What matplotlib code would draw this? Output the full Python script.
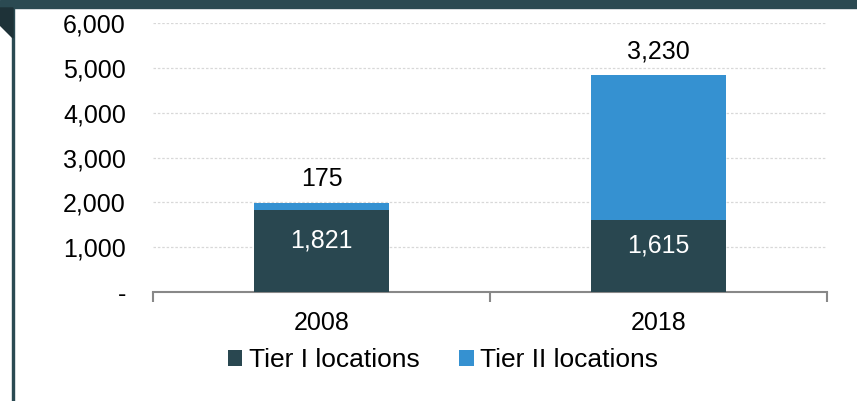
import matplotlib
matplotlib.use("Agg")
from matplotlib import pyplot as plt
from matplotlib.patches import Rectangle, Polygon

plt.rcParams['font.family'] = ['Liberation Sans', 'DejaVu Sans']

years = ['2008', '2018']
tier1 = [1821, 1615]
tier2 = [175, 3230]
yticks = [0, 1000, 2000, 3000, 4000, 5000, 6000]
ytick_labels = ['-', '1,000', '2,000', '3,000', '4,000', '5,000', '6,000']

DARK = '#294750'
BLUE = '#3591D1'
FS = 18
W, H = 857, 401


def main():
    fig = plt.figure(figsize=(W / 100, H / 100), dpi=100)
    # axes box in pixels: x 153..827, y 23..292
    ax = fig.add_axes([153 / W, 1 - 292 / H, (827 - 153) / W, (292 - 23) / H])

    x = [0, 1]
    ax.bar(x, tier1, width=0.4, color=DARK, label='Tier I locations', zorder=3)
    ax.bar(x, tier2, width=0.4, bottom=tier1, color=BLUE, label='Tier II locations', zorder=3)

    for i in x:
        ax.annotate(f'{tier1[i]:,}', (i, tier1[i] / 2), xytext=(0, 2.5), textcoords='offset points',
                    ha='center', va='baseline', color='white', fontsize=FS, zorder=4)
        ax.annotate(f'{tier2[i]:,}', (i, tier1[i] + tier2[i]), xytext=(0, 12), textcoords='offset points',
                    ha='center', va='baseline', color='black', fontsize=FS, zorder=4)

    ax.set_xlim(-0.5, 1.5)
    ax.set_ylim(0, 6000)
    ax.set_yticks(yticks)
    ax.set_yticklabels(ytick_labels, fontsize=FS)
    ax.tick_params(axis='y', length=0, pad=19.5)
    ax.set_xticks(x)
    ax.set_xticklabels(years, fontsize=FS)
    ax.tick_params(axis='x', length=0, pad=13.5)
    # category boundary ticks
    ax.set_xticks([-0.5, 0.5, 1.5], minor=True)
    ax.tick_params(axis='x', which='minor', length=7, width=1.5, color='#888888', direction='out')

    for s in ['top', 'right', 'left']:
        ax.spines[s].set_visible(False)
    ax.spines['bottom'].set_color('#888888')
    ax.spines['bottom'].set_linewidth(1.5)
    ax.grid(axis='y', color='#d8d8d8', linestyle=(0, (2, 1.5)), linewidth=0.9, zorder=0)

    fig.legend(loc='center', bbox_to_anchor=(443 / W, 1 - 360 / H), ncol=2, frameon=False,
               fontsize=19, handlelength=0.55, handleheight=0.55, handletextpad=0.25,
               columnspacing=1.5, borderpad=0)

    # frame decorations: top band, left rule and corner triangle
    fig.patches.append(Rectangle((0, 1 - 8 / H), 1, 8 / H, transform=fig.transFigure,
                                 color='#2B4A52', zorder=0))
    fig.patches.append(Rectangle((12 / W, 0), 1.5 / W, 1 - 8 / H, transform=fig.transFigure,
                                 color='#2B4A52', zorder=0))
    fig.patches.append(Polygon([(0, 1 - 8 / H), (13 / W, 1 - 8 / H), (13 / W, 1 - 38 / H),
                                (0, 1 - 25 / H)], closed=True, transform=fig.transFigure,
                               color='#1E3238', zorder=0))

    fig.savefig('out.png', dpi=100)


if __name__ == '__main__':
    main()
